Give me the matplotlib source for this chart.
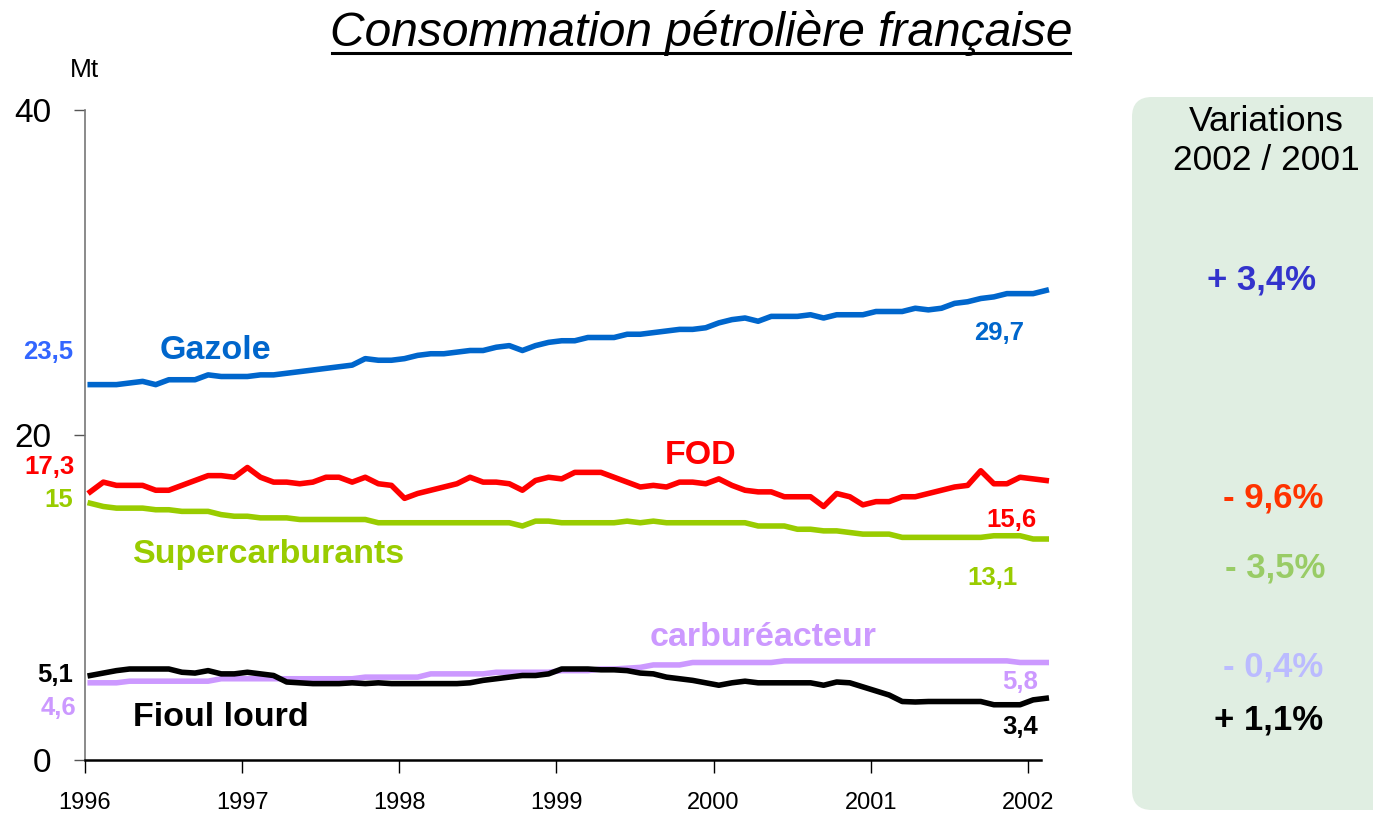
import numpy as np
import matplotlib
matplotlib.use("Agg")
import matplotlib.pyplot as plt
from matplotlib.patches import FancyBboxPatch
from matplotlib.lines import Line2D
from matplotlib.transforms import IdentityTransform

plt.rcParams['font.family'] = ['Liberation Sans', 'DejaVu Sans']

# monthly values, Jan 1996 -> Feb 2002 (Mt)
gazole = [23.1, 23.1, 23.1, 23.2, 23.3, 23.1, 23.4, 23.4, 23.4, 23.7, 23.6, 23.6,
          23.6, 23.7, 23.7, 23.8, 23.9, 24.0, 24.1, 24.2, 24.3, 24.7, 24.6, 24.6,
          24.7, 24.9, 25.0, 25.0, 25.1, 25.2, 25.2, 25.4, 25.5, 25.2, 25.5, 25.7,
          25.8, 25.8, 26.0, 26.0, 26.0, 26.2, 26.2, 26.3, 26.4, 26.5, 26.5, 26.6,
          26.9, 27.1, 27.2, 27.0, 27.3, 27.3, 27.3, 27.4, 27.2, 27.4, 27.4, 27.4,
          27.6, 27.6, 27.6, 27.8, 27.7, 27.8, 28.1, 28.2, 28.4, 28.5, 28.7, 28.7,
          28.7, 28.9]
fod = [16.5, 17.1, 16.9, 16.9, 16.9, 16.6, 16.6, 16.9, 17.2, 17.5, 17.5, 17.4,
       18.0, 17.4, 17.1, 17.1, 17.0, 17.1, 17.4, 17.4, 17.1, 17.4, 17.0, 16.9,
       16.1, 16.4, 16.6, 16.8, 17.0, 17.4, 17.1, 17.1, 17.0, 16.6, 17.2, 17.4,
       17.3, 17.7, 17.7, 17.7, 17.4, 17.1, 16.8, 16.9, 16.8, 17.1, 17.1, 17.0,
       17.3, 16.9, 16.6, 16.5, 16.5, 16.2, 16.2, 16.2, 15.6, 16.4, 16.2, 15.7,
       15.9, 15.9, 16.2, 16.2, 16.4, 16.6, 16.8, 16.9, 17.8, 17.0, 17.0, 17.4,
       17.3, 17.2]
supercarb = [15.8, 15.6, 15.5, 15.5, 15.5, 15.4, 15.4, 15.3, 15.3, 15.3, 15.1, 15.0,
             15.0, 14.9, 14.9, 14.9, 14.8, 14.8, 14.8, 14.8, 14.8, 14.8, 14.6, 14.6,
             14.6, 14.6, 14.6, 14.6, 14.6, 14.6, 14.6, 14.6, 14.6, 14.4, 14.7, 14.7,
             14.6, 14.6, 14.6, 14.6, 14.6, 14.7, 14.6, 14.7, 14.6, 14.6, 14.6, 14.6,
             14.6, 14.6, 14.6, 14.4, 14.4, 14.4, 14.2, 14.2, 14.1, 14.1, 14.0, 13.9,
             13.9, 13.9, 13.7, 13.7, 13.7, 13.7, 13.7, 13.7, 13.7, 13.8, 13.8, 13.8,
             13.6, 13.6]
carbu = [4.75, 4.75, 4.75, 4.85, 4.85, 4.85, 4.85, 4.85, 4.85, 4.85, 5.0, 5.0,
         5.0, 5.0, 5.0, 5.0, 5.0, 5.0, 5.0, 5.0, 5.0, 5.1, 5.1, 5.1,
         5.1, 5.1, 5.3, 5.3, 5.3, 5.3, 5.3, 5.4, 5.4, 5.4, 5.4, 5.4,
         5.5, 5.5, 5.5, 5.6, 5.6, 5.65, 5.7, 5.85, 5.85, 5.85, 6.0, 6.0,
         6.0, 6.0, 6.0, 6.0, 6.0, 6.1, 6.1, 6.1, 6.1, 6.1, 6.1, 6.1,
         6.1, 6.1, 6.1, 6.1, 6.1, 6.1, 6.1, 6.1, 6.1, 6.1, 6.1, 6.0,
         6.0, 6.0]
fioul = [5.2, 5.35, 5.5, 5.6, 5.6, 5.6, 5.6, 5.4, 5.35, 5.5, 5.3, 5.3,
         5.4, 5.3, 5.2, 4.8, 4.75, 4.7, 4.7, 4.7, 4.75, 4.7, 4.75, 4.7,
         4.7, 4.7, 4.7, 4.7, 4.7, 4.75, 4.9, 5.0, 5.1, 5.2, 5.2, 5.3,
         5.6, 5.6, 5.6, 5.55, 5.55, 5.5, 5.35, 5.3, 5.1, 5.0, 4.9, 4.75,
         4.6, 4.75, 4.85, 4.75, 4.75, 4.75, 4.75, 4.75, 4.6, 4.8, 4.75, 4.5,
         4.25, 4.0, 3.6, 3.57, 3.6, 3.6, 3.6, 3.6, 3.6, 3.4, 3.4, 3.4,
         3.7, 3.8]

years = ['1996', '1997', '1998', '1999', '2000', '2001', '2002']
variations = ['+ 3,4%', '- 9,6%', '- 3,5%', '- 0,4%', '+ 1,1%']

W, H = 1373, 819
fig = plt.figure(figsize=(W / 100, H / 100), dpi=100)

def px(x, y):
    return x / W, 1 - y / H

# green side panel
panel = FancyBboxPatch((1132, 9), 280, 713, boxstyle="round,pad=0,rounding_size=20",
                       transform=IdentityTransform(), facecolor='#E0EEE2', edgecolor='none')
fig.patches.append(panel)

ax = fig.add_axes([85 / W, (H - 760) / H, (1041 - 85) / W, (760 - 110) / H])
x = np.arange(len(gazole)) + 0.4
lw = 4.0
ax.plot(x, gazole, color='#0066CC', lw=lw, clip_on=False, solid_joinstyle='round')
ax.plot(x, fod, color='#FF0000', lw=lw, clip_on=False, solid_joinstyle='round')
ax.plot(x, supercarb, color='#99CC00', lw=lw, clip_on=False, solid_joinstyle='round')
ax.plot(x, carbu, color='#CC99FF', lw=lw, clip_on=False, solid_joinstyle='round')
ax.plot(x, fioul, color='black', lw=lw, clip_on=False, solid_joinstyle='round')

ax.set_xlim(0, 73)
ax.set_ylim(0, 40)
ax.set_xticks(np.arange(0, 73, 12))
ax.set_xticklabels(years, fontsize=17)
ax.set_yticks([0, 20, 40])
ax.set_yticklabels(['0', '20', '40'], fontsize=24)
ax.tick_params(axis='x', direction='out', length=9, width=1, pad=14, color='black')
ax.tick_params(axis='y', direction='out', length=8, width=1, pad=16, color='#555555')
for s in ['top', 'right']:
    ax.spines[s].set_visible(False)
ax.spines['left'].set_color('#777777')
ax.spines['left'].set_linewidth(1.2)
ax.spines['bottom'].set_color('black')
ax.spines['bottom'].set_linewidth(1.8)
ax.patch.set_alpha(0)

# title (underlined)
title = fig.text(*px(701, 33), 'Consommation pétrolière française', fontsize=34.5,
                 style='italic', ha='center', va='center')
fig.text(*px(84, 70), 'Mt', fontsize=19, ha='center', va='center')

# series labels
lab = dict(fontweight='bold', va='center')
fig.text(*px(160, 350), 'Gazole', color='#0066CC', fontsize=24.5, ha='left', **lab)
fig.text(*px(665, 455), 'FOD', color='#FF0000', fontsize=24.5, ha='left', **lab)
fig.text(*px(133, 555), 'Supercarburants', color='#99CC00', fontsize=24.5, ha='left', **lab)
fig.text(*px(650, 638), 'carburéacteur', color='#CC99FF', fontsize=24.5, ha='left', **lab)
fig.text(*px(133, 718), 'Fioul lourd', color='black', fontsize=24.5, ha='left', **lab)

# start / end values
vs = 18.5
fig.text(*px(73, 352), '23,5', color='#3366FF', fontsize=vs, ha='right', **lab)
fig.text(*px(75, 467), '17,3', color='#FF0000', fontsize=vs, ha='right', **lab)
fig.text(*px(73, 500), '15', color='#99CC00', fontsize=vs, ha='right', **lab)
fig.text(*px(73, 675), '5,1', color='black', fontsize=vs, ha='right', **lab)
fig.text(*px(76, 708), '4,6', color='#CC99FF', fontsize=vs, ha='right', **lab)
fig.text(*px(1024, 333), '29,7', color='#0066CC', fontsize=vs, ha='right', **lab)
fig.text(*px(1036, 520), '15,6', color='#FF0000', fontsize=vs, ha='right', **lab)
fig.text(*px(1018, 578), '13,1', color='#99CC00', fontsize=vs, ha='right', **lab)
fig.text(*px(1038, 682), '5,8', color='#CC99FF', fontsize=vs, ha='right', **lab)
fig.text(*px(1038, 727), '3,4', color='black', fontsize=vs, ha='right', **lab)

# variations panel
fig.text(*px(1266, 141), 'Variations\n2002 / 2001', fontsize=25.5, ha='center', va='center',
         linespacing=1.2)
var_y = [280, 498, 568, 667, 720]
var_x = [1316, 1323, 1325, 1323, 1323]
var_c = ['#3333CC', '#FF3300', '#99CC66', '#BBBBFF', 'black']
for txt, xx, yy, c in zip(variations, var_x, var_y, var_c):
    fig.text(*px(xx, yy), txt, color=c, fontsize=25, fontweight='bold',
             ha='right', va='center')

fig.canvas.draw()
bb = title.get_window_extent(fig.canvas.get_renderer())
fig.lines.append(Line2D([bb.x0 + 2, bb.x1 - 2], [H - 53, H - 53], color='black', lw=2.2,
                        transform=IdentityTransform()))

fig.savefig('out.png', dpi=100)
